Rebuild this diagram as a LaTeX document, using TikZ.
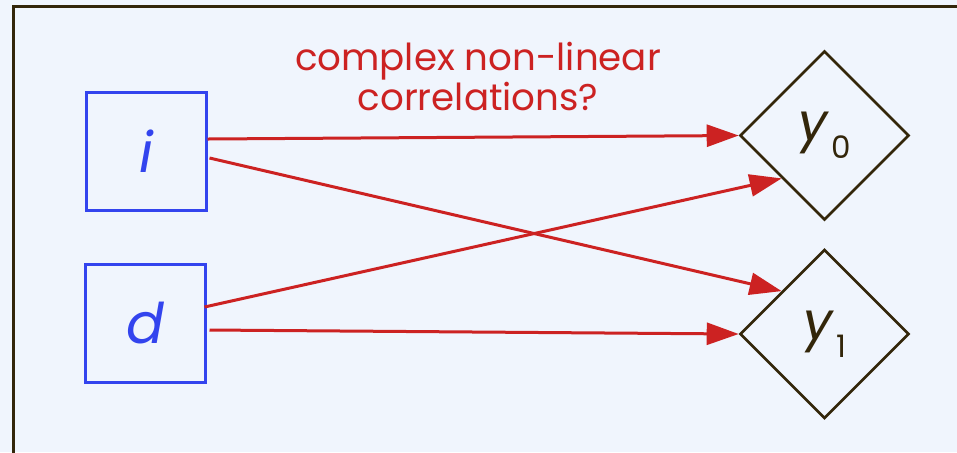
\documentclass[tikz,border=0pt]{standalone}
\usepackage{fontspec}
\setmainfont{Poppins}
\usepackage{tikz}
\usetikzlibrary{arrows.meta,positioning,shapes.geometric}

\definecolor{bgblue}{HTML}{F0F5FD}
\definecolor{framebrown}{HTML}{33260A}
\definecolor{boxblue}{HTML}{3344EE}
\definecolor{linkred}{HTML}{CC2222}

\begin{document}
\begin{tikzpicture}[
    x=0.5pt, y=-0.5pt,
    inbox/.style={draw=boxblue, line width=1.5pt, minimum width=60pt, minimum height=59pt, font=\fontsize{28}{30}\selectfont\itshape, text=boxblue},
    outbox/.style={draw=framebrown, diamond, line width=1.3pt, minimum width=84.5pt, minimum height=84.5pt, inner sep=0pt, font=\fontsize{26}{28}\selectfont, text=framebrown},
    arrow/.style={-{Triangle[length=16pt, width=11pt]}, line width=1.5pt, draw=linkred}
]
\useasboundingbox (0,0) rectangle (957,452);
\fill[bgblue] (0,0) rectangle (957,452);
\draw[framebrown, line width=1.5pt] (13.5,6) rectangle (975,470);
\node[inbox] (i) at (146,151) {i};
\node[inbox] (d) at (145,323) {d};
\node[outbox] (y0) at (824.5,135.5) {\textit{y}\kern1pt\raisebox{-9pt}{\fontsize{15.5}{18}\selectfont 0}};
\node[outbox] (y1) at (824.5,334) {\textit{y}\kern1pt\raisebox{-9pt}{\fontsize{15.5}{18}\selectfont 1}};
\node[align=center, text=linkred, font=\fontsize{18.6}{20}\selectfont] (note) at (478,77) {complex non-linear\\correlations?};
\draw[arrow] ([yshift=6pt]i.east) -- (y0.west);
\draw[arrow] ([yshift=-3.5pt, xshift=1pt]i.east) -- (y1.north west);
\draw[arrow] ([yshift=8pt, xshift=-1pt]d.east) -- (y0.south west);
\draw[arrow] ([yshift=-3.5pt, xshift=1.5pt]d.east) -- (y1.west);
\end{tikzpicture}
\end{document}
